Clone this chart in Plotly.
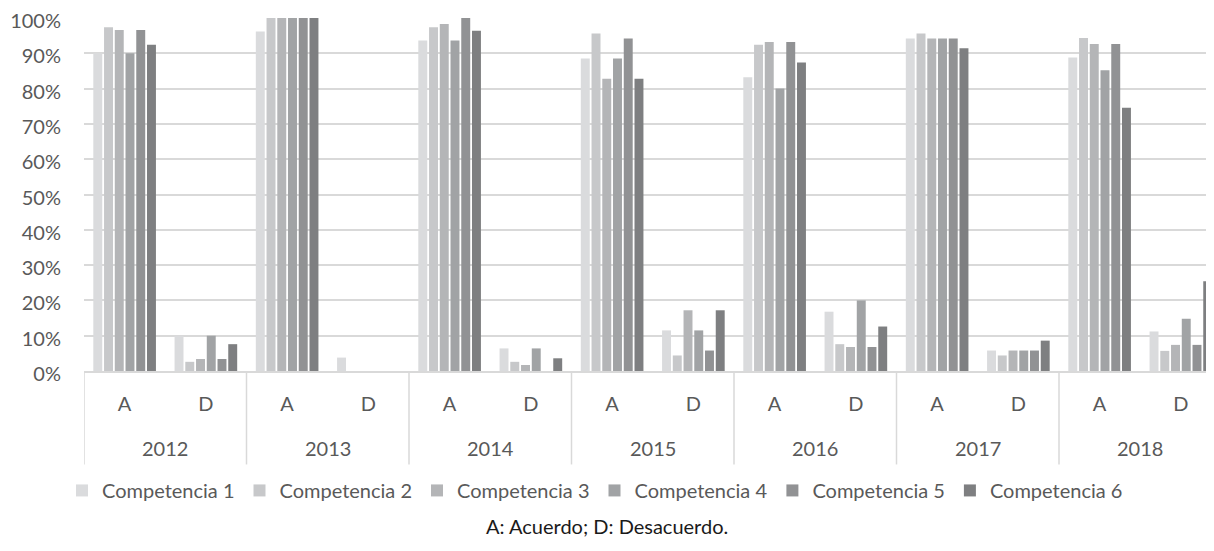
import plotly.graph_objects as go

years = ["2012", "2013", "2014", "2015", "2016", "2017", "2018"]
answers = ["A", "D"]
series_names = ["Competencia 1", "Competencia 2", "Competencia 3",
                "Competencia 4", "Competencia 5", "Competencia 6"]
colors = ["#dadbdd", "#c7c8ca", "#b4b5b7", "#a1a3a5", "#919294", "#7e7f81"]

# values in % ; order: 2012A, 2012D, 2013A, 2013D, ... 2018A, 2018D
comp1 = [90.0, 10.0, 96.2, 3.8, 93.6, 6.4, 88.5, 11.5, 83.2, 16.8, 94.2, 5.8, 88.8, 11.2]
comp2 = [97.4, 2.6, 100.0, 0.0, 97.4, 2.6, 95.6, 4.4, 92.4, 7.6, 95.6, 4.4, 94.3, 5.7]
comp3 = [96.6, 3.4, 100.0, 0.0, 98.3, 1.7, 82.8, 17.2, 93.2, 6.8, 94.2, 5.8, 92.6, 7.4]
comp4 = [90.0, 10.0, 100.0, 0.0, 93.6, 6.4, 88.5, 11.5, 80.0, 20.0, 94.2, 5.8, 85.2, 14.8]
comp5 = [96.6, 3.4, 100.0, 0.0, 100.0, 0.0, 94.2, 5.8, 93.2, 6.8, 94.2, 5.8, 92.6, 7.4]
comp6 = [92.4, 7.6, 100.0, 0.0, 96.4, 3.6, 82.8, 17.2, 87.4, 12.6, 91.4, 8.6, 74.6, 25.4]
all_series = [comp1, comp2, comp3, comp4, comp5, comp6]

y_ticks = [0, 10, 20, 30, 40, 50, 60, 70, 80, 90, 100]
y_tick_labels = ["0%", "10%", "20%", "30%", "40%", "50%", "60%", "70%", "80%", "90%", "100%"]

positions = list(range(len(years) * len(answers)))
tick_text = answers * len(years)

FONT = "Lato"
TXT = "#595959"
GRID = "#d9d9d9"

fig = go.Figure()
for name, vals, col in zip(series_names, all_series, colors):
    fig.add_trace(go.Bar(x=positions, y=vals, name=name,
                         marker=dict(color=col, line=dict(width=0))))

OFF = 8  # browser default body margin
W, H = 1214 - OFF, 551 - OFF
top, bottom_px, left = 18.3 - OFF, 371.5 - OFF, 84 - OFF
plot_h = bottom_px - top

def py(pix):
    return -((pix - OFF) - bottom_px) / plot_h

def px(pix):
    return ((pix - OFF) - left) / (W - left)

shapes = []
for i in range(len(years) + 1):
    shapes.append(dict(type="line", xref="x", yref="paper",
                       x0=2 * i - 0.5, x1=2 * i - 0.5,
                       y0=0, y1=py(465), line=dict(color=GRID, width=1.5)))

annotations = []
for i, yr in enumerate(years):
    annotations.append(dict(x=2 * i + 0.5, y=py(449), xref="x", yref="paper",
                            text=yr, showarrow=False, yanchor="middle",
                            font=dict(family=FONT, size=20, color=TXT)))
annotations.append(dict(x=px(607), y=py(527), xref="paper", yref="paper",
                        text="A: Acuerdo; D: Desacuerdo.", showarrow=False,
                        yanchor="middle", xanchor="center",
                        font=dict(family=FONT, size=20, color="#1a1a1a")))

fig.update_layout(
    width=W, height=H,
    margin=dict(l=left, r=0, t=top, b=H - bottom_px, pad=0, autoexpand=False),
    paper_bgcolor="white", plot_bgcolor="white",
    barmode="group", bargap=0.207, bargroupgap=0.167,
    font=dict(family=FONT, size=20, color=TXT),
    showlegend=True,
    legend=dict(orientation="h", x=px(62), xanchor="left",
                y=py(491), yanchor="middle", font=dict(family=FONT, size=20, color=TXT),
                itemwidth=30, traceorder="normal", tracegroupgap=0,
                bgcolor="rgba(0,0,0,0)"),
    shapes=shapes,
    annotations=annotations,
)
fig.update_xaxes(range=[-0.5, -0.5 + (W - left) / 81.25], tickmode="array",
                 tickvals=positions, ticktext=tick_text, ticks="",
                 showgrid=False, showline=True, linecolor=GRID, linewidth=1.5,
                 zeroline=False, ticklabelstandoff=14, ticklabeloverflow="allow",
                 tickfont=dict(family=FONT, size=20, color=TXT))
fig.update_yaxes(range=[0, 100], tickmode="array", tickvals=y_ticks,
                 ticktext=y_tick_labels, showgrid=True, gridcolor=GRID, gridwidth=1.5,
                 zeroline=False, showline=False, ticks="", ticklabelstandoff=22,
                 ticklabeloverflow="allow", ticklabelshift=3,
                 tickfont=dict(family=FONT, size=20, color=TXT))

fig.write_html("out.html")
